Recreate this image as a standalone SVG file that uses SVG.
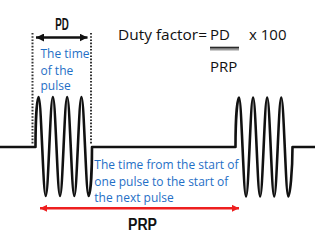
<svg xmlns="http://www.w3.org/2000/svg" width="315" height="238" viewBox="0 0 315 238">
<style>
.wave{fill:none;stroke:#111;stroke-width:2.6;stroke-linejoin:round}
.dots{fill:none;stroke:#333;stroke-width:2;stroke-dasharray:1.6 1.6}
.blue{font-family:"Open Sans","DejaVu Sans",sans-serif;font-size:12px;fill:#1f6fc6}
.formula{font-family:"Open Sans","DejaVu Sans",sans-serif;font-size:15px;fill:#111}
.bold{font-family:"Liberation Sans",Arial,sans-serif;font-weight:bold;fill:#111}
.arrow-black{stroke:#111;stroke-width:2.6;fill:none}
.arrow-red{stroke:#ee1f1f;stroke-width:2.6;fill:none}
</style>
<defs>
<marker id="headBlack" viewBox="0 0 10 10" refX="10" refY="5" markerUnits="userSpaceOnUse" markerWidth="8" markerHeight="8" orient="auto-start-reverse">
<path d="M0,0 L10,5 L0,10 z" fill="#111"/>
</marker>
<marker id="headRed" viewBox="0 0 10 10" refX="10" refY="5" markerUnits="userSpaceOnUse" markerWidth="8" markerHeight="7" orient="auto-start-reverse">
<path d="M0,0 L10,5 L0,10 z" fill="#ee1f1f"/>
</marker>
</defs>
<rect width="315" height="238" fill="#fff"/>

<g id="waveform">
<path class="wave" d="M0,147 H35.5 C35.5,120 37,97 38.6,97 c2.6,0 4.54,99 7.14,99 c2.6,0 4.54,-99 7.14,-99 c2.6,0 4.54,99 7.14,99 c2.6,0 4.54,-99 7.14,-99 c2.6,0 4.54,99 7.14,99 c2.6,0 4.54,-99 7.14,-99 c2.6,0 4.54,99 7.14,99 C90.5,196 92,170 92,147 H235.5 C235.5,120 237.3,97.5 239,97.5 c2.57,0 4.47,99 7.04,99 c2.57,0 4.47,-99 7.04,-99 c2.57,0 4.47,99 7.04,99 c2.57,0 4.47,-99 7.04,-99 c2.57,0 4.47,99 7.04,99 c2.57,0 4.47,-99 7.04,-99 c2.57,0 4.47,99 7.04,99 C290,196.5 292.5,170 292.5,147 H315"/>
</g>

<g id="pd-bounds">
<line class="dots" x1="32.5" y1="33" x2="32.5" y2="145"/>
<line class="dots" x1="91" y1="33" x2="91" y2="145"/>
</g>

<g id="pd-label">
<text class="bold" x="62" y="30" font-size="16" text-anchor="middle" textLength="13.5" lengthAdjust="spacingAndGlyphs">PD</text>
</g>

<g id="pd-desc">
<text class="blue" x="40.5" y="58">The time</text>
<text class="blue" x="40.5" y="74.5">of the</text>
<text class="blue" x="40.5" y="90">pulse</text>
</g>

<g id="duty-formula">
<text class="formula" x="118" y="39.5" textLength="89" lengthAdjust="spacingAndGlyphs">Duty factor=</text>
<text class="formula" x="210" y="39.5">PD</text>
<text class="formula" x="249" y="39.5">x 100</text>
<rect x="210" y="46.7" width="29" height="2" fill="#2a2a2a"/>
<rect x="210" y="48.7" width="29" height="1.8" fill="#999"/>
<text class="formula" x="210" y="71.7">PRP</text>
</g>

<g id="prp-desc">
<text class="blue" x="94.3" y="169.3">The time from the start of</text>
<text class="blue" x="94.3" y="186">one pulse to the start of</text>
<text class="blue" x="94.3" y="201.7">the next pulse</text>
</g>

<g id="prp-label">
<text class="bold" x="142.5" y="230" font-size="16" text-anchor="middle" textLength="29" lengthAdjust="spacingAndGlyphs">PRP</text>
</g>

<g id="connectors">
<line class="arrow-black" x1="36" y1="37.5" x2="87.5" y2="37.5" marker-start="url(#headBlack)" marker-end="url(#headBlack)"/>
<line class="arrow-red" x1="40" y1="208.3" x2="239" y2="208.3" marker-start="url(#headRed)" marker-end="url(#headRed)"/>
</g>
</svg>
